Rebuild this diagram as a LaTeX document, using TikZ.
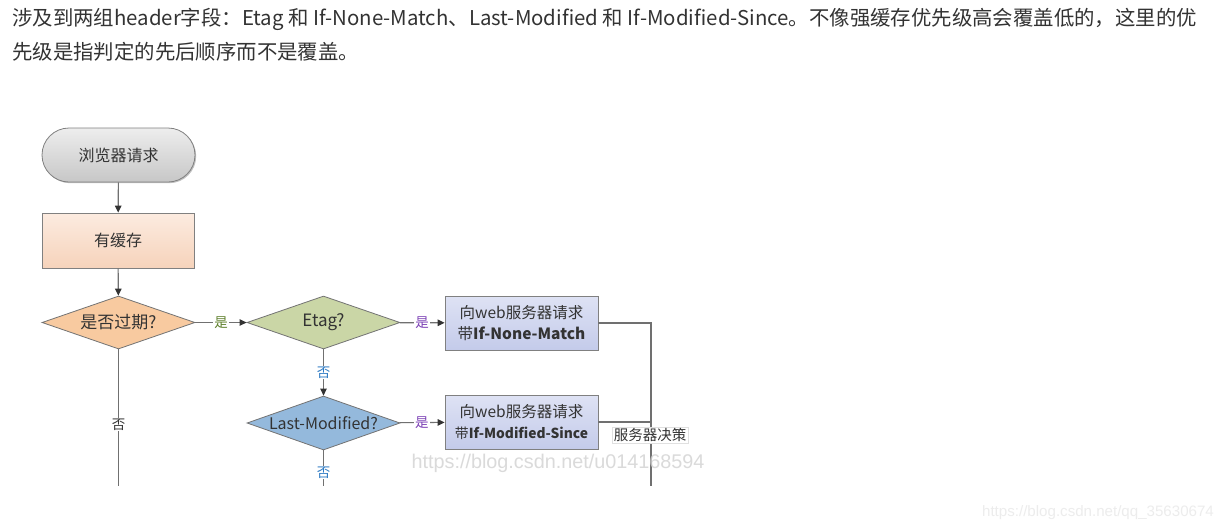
\documentclass[tikz,border=0pt]{standalone}
\usepackage{fontspec}
\setmainfont{Noto Sans CJK SC}
\newfontfamily\wmfont{Liberation Sans}
\usetikzlibrary{shapes.geometric,arrows.meta,shadows}
\definecolor{txt}{HTML}{333333}
\definecolor{lineg}{HTML}{707070}
\definecolor{lblgreen}{HTML}{5E7F2B}
\definecolor{lblpurple}{HTML}{7B3FB5}
\definecolor{lblblue}{HTML}{2E7BC4}
\begin{document}
\begin{tikzpicture}[x=1pt,y=-1pt,
  every node/.style={font=\fontsize{15.5}{21}\selectfont, text=txt},
  conn/.style={draw=lineg, line width=1.1pt},
  arr/.style={conn, -{Triangle[length=7pt,width=6.5pt,color=black!80]}},
  shad/.style={drop shadow={shadow xshift=1.2pt, shadow yshift=-1.2pt, opacity=0.25, fill=black}},
  term/.style={rectangle, rounded corners=27pt, minimum width=153pt, minimum height=54pt,
    draw=black!50, line width=0.8pt, top color=black!7, bottom color=black!22, shad},
  proc/.style={rectangle, minimum width=152pt, minimum height=55pt, inner sep=0pt,
    draw=black!50, line width=0.8pt, shad},
  dec/.style={diamond, minimum width=153pt, minimum height=53pt, inner sep=0pt,
    draw=black!55, line width=0.8pt, font=\fontsize{17}{17}\selectfont},
  lbl/.style={fill=white, inner sep=1pt, font=\fontsize{13.5}{13.5}\selectfont},
  hdr/.style={anchor=west, inner sep=0pt, font=\fontsize{20.4}{20.4}\selectfont, text=txt},
  wm/.style={font=\wmfont\fontsize{19.8}{19.8}\selectfont, text=black!18, text opacity=0.8},
]
\useasboundingbox (0,0) rectangle (1228,531);
\fill[white] (0,0) rectangle (1228,531);

% header text
\node[hdr] (h1) at (12,19) {涉及到两组header字段：Etag 和 If-None-Match、Last-Modified 和 If-Modified-Since。不像强缓存优先级高会覆盖低的，这里的优};
\node[hdr] (h2) at (12,52) {先级是指判定的先后顺序而不是覆盖。};

% flowchart nodes
\node[term, font=\fontsize{16}{16}\selectfont] (start) at (118.5,155) {浏览器请求};
\node[proc, font=\fontsize{16}{16}\selectfont, top color={rgb,255:red,252;green,235;blue,224}, bottom color={rgb,255:red,246;green,211;blue,187}] (cache) at (118,240.5) {有缓存};
\node[dec, fill={rgb,255:red,248;green,202;blue,160}] (expired) at (118.5,322.5) {\makebox[0pt]{是否过期?}};
\node[dec, fill={rgb,255:red,202;green,214;blue,166}] (etag) at (323.5,322.5) {\makebox[0pt]{Etag?}};
\node[dec, minimum height=54pt, font=\fontsize{16}{16}\selectfont, fill={rgb,255:red,148;green,185;blue,220}] (lm) at (323.5,423) {\makebox[0pt]{Last-Modified?}};
\node[proc, minimum width=153pt, minimum height=54pt, align=center,
  top color={rgb,255:red,222;green,226;blue,244}, bottom color={rgb,255:red,196;green,203;blue,234}] (req1) at (521.5,323)
  {向web服务器请求\\带\textbf{If-None-Match}};
\node[proc, minimum width=153pt, minimum height=54pt, align=center,
  top color={rgb,255:red,222;green,226;blue,244}, bottom color={rgb,255:red,196;green,203;blue,234}] (req2) at (521.5,422)
  {向web服务器请求\\{\fontsize{13.8}{19}\selectfont 带\textbf{If-Modified-Since}}};

\coordinate (endA) at (118.5,486);
\coordinate (endB) at (323.5,486);
\coordinate (endC) at (651,486);
\coordinate (j2) at (651,422);

% connectors
\draw[arr] (start) -- (cache);
\draw[arr] (cache) -- (expired);
\draw[arr] (expired) -- node[lbl, text=lblgreen] {是} (etag);
\draw[arr] (etag) -- node[lbl, text=lblpurple] {是} (req1);
\draw[arr] (etag) -- node[lbl, text=lblblue] {否} (lm);
\draw[arr] (lm) -- node[lbl, text=lblpurple] {是} (req2);
\draw[conn] (expired) -- node[lbl, pos=0.55] {否} (endA);
\draw[conn] (lm) -- node[lbl, pos=0.62, text=lblblue] {否} (endB);
\draw[conn] (req1) -| (endC);
\draw[conn] (req2) -- (j2);
\node[fill=white, draw=black!12, line width=0.5pt, inner sep=1.5pt, font=\fontsize{14.5}{14.5}\selectfont] (decide) at (650,435) {服务器决策};

% watermarks
\node[wm] (wm1) at (558,463) {https://blog.csdn.net/u014168594};
\node[wm, font=\wmfont\fontsize{15.1}{15.1}\selectfont, text=black!9] (wm2) at (1098,513) {https://blog.csdn.net/qq\_35630674};
\end{tikzpicture}
\end{document}
